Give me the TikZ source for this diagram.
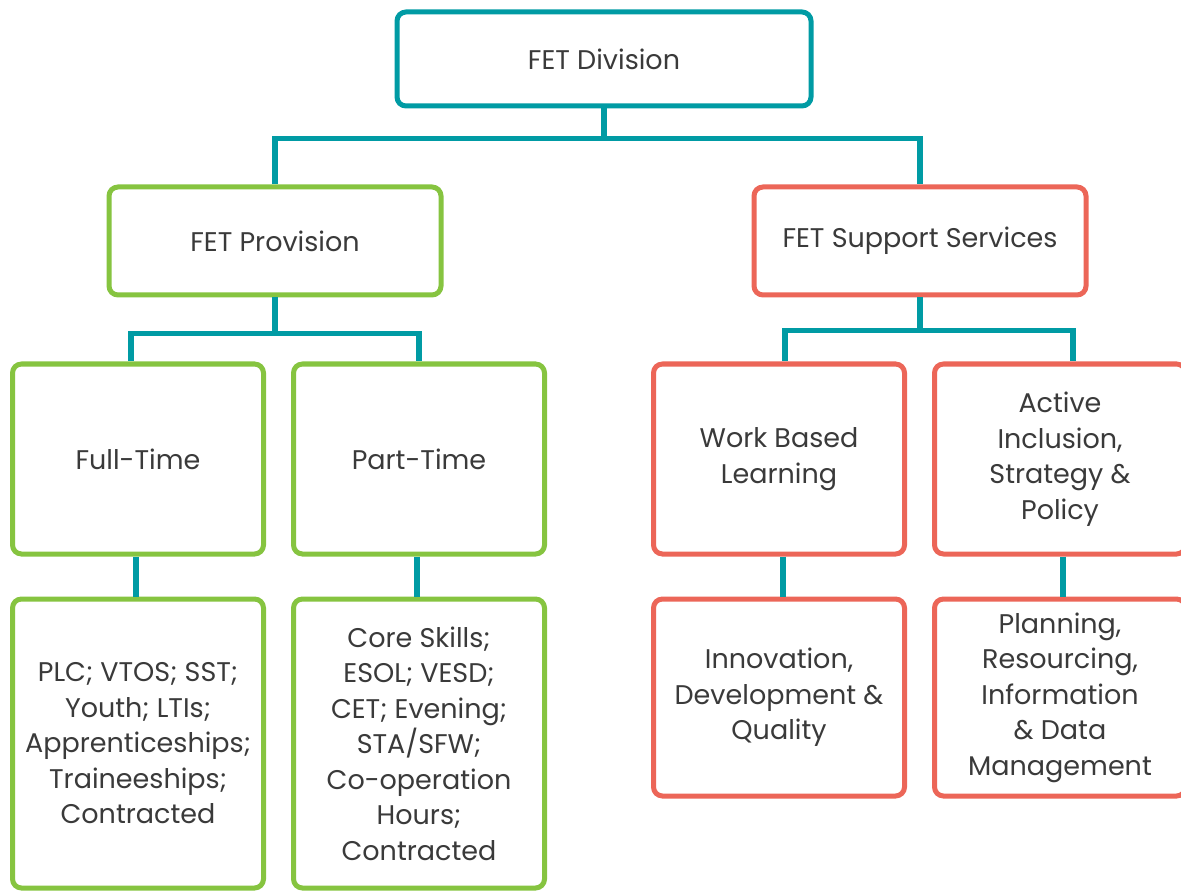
\documentclass[tikz,border=0pt]{standalone}
\usepackage{fontspec}
\setmainfont{Poppins}
\usepackage{tikz}

\definecolor{teal}{RGB}{0,155,164}
\definecolor{leaf}{RGB}{134,196,64}
\definecolor{coral}{RGB}{236,102,88}
\definecolor{ink}{RGB}{58,58,58}

\begin{document}
\begin{tikzpicture}[x=1pt,y=-1pt,
    box/.style={draw, line width=5pt, rounded corners=9pt, fill=white,
        align=center, text=ink, font=\fontsize{27}{35.5}\selectfont, inner sep=0pt},
    top/.style={box, draw=teal},
    prov/.style={box, draw=leaf},
    supp/.style={box, draw=coral},
    link/.style={draw=teal, line width=5.5pt}]
    \useasboundingbox (0,0) rectangle (1181,893);

    % Top level
    \node[top, minimum width=414pt, minimum height=94pt] (div) at (604,59) {FET Division};

    % Second level
    \node[prov, minimum width=332pt, minimum height=108pt] (prov) at (275,241) {FET Provision};
    \node[supp, minimum width=332pt, minimum height=108pt] (supp) at (920,241) {FET Support Services};

    % Third level
    \node[prov, minimum width=251pt, minimum height=190pt] (ft) at (138,459) {Full-Time};
    \node[prov, minimum width=251pt, minimum height=190pt] (pt) at (419,459) {Part-Time};
    \node[supp, minimum width=251pt, minimum height=190pt] (wbl) at (779,459) {Work Based\\Learning};
    \node[supp, minimum width=251pt, minimum height=190pt] (aisp) at (1060,459) {Active\\Inclusion,\\Strategy \&\\Policy};

    % Bottom level
    \node[prov, minimum width=251pt, minimum height=289pt] (ftprog) at (138,743.5)
        {PLC; VTOS; SST;\\Youth; LTIs;\\Apprenticeships;\\Traineeships;\\Contracted};
    \node[prov, minimum width=251pt, minimum height=289pt] (ptprog) at (419,743.5)
        {Core Skills;\\ESOL; VESD;\\CET; Evening;\\STA/SFW;\\Co-operation\\Hours;\\Contracted};
    \node[supp, minimum width=251pt, minimum height=197pt] (idq) at (779,697.5)
        {Innovation,\\Development \&\\Quality};
    \node[supp, minimum width=251pt, minimum height=197pt] (prid) at (1060,697.5)
        {Planning,\\Resourcing,\\Information\\\& Data\\Management};

    % Connectors
    \draw[link] (div.south) -- ++(0,30) -| (prov.north);
    \draw[link] (div.south) -- ++(0,30) -| (supp.north);
    \draw[link] (prov.south) -- ++(0,36) -| ([xshift=-7pt]ft.north);
    \draw[link] (prov.south) -- ++(0,36) -| (pt.north);
    \draw[link] (supp.south) -- ++(0,33) -| ([xshift=6pt]wbl.north);
    \draw[link] (supp.south) -- ++(0,33) -| ([xshift=13pt]aisp.north);
    \draw[link] ([xshift=-2pt]ft.south) -- ([xshift=-2pt]ftprog.north);
    \draw[link] ([xshift=-2pt]pt.south) -- ([xshift=-2pt]ptprog.north);
    \draw[link] ([xshift=4pt]wbl.south) -- ([xshift=4pt]idq.north);
    \draw[link] ([xshift=3pt]aisp.south) -- ([xshift=3pt]prid.north);
\end{tikzpicture}
\end{document}
